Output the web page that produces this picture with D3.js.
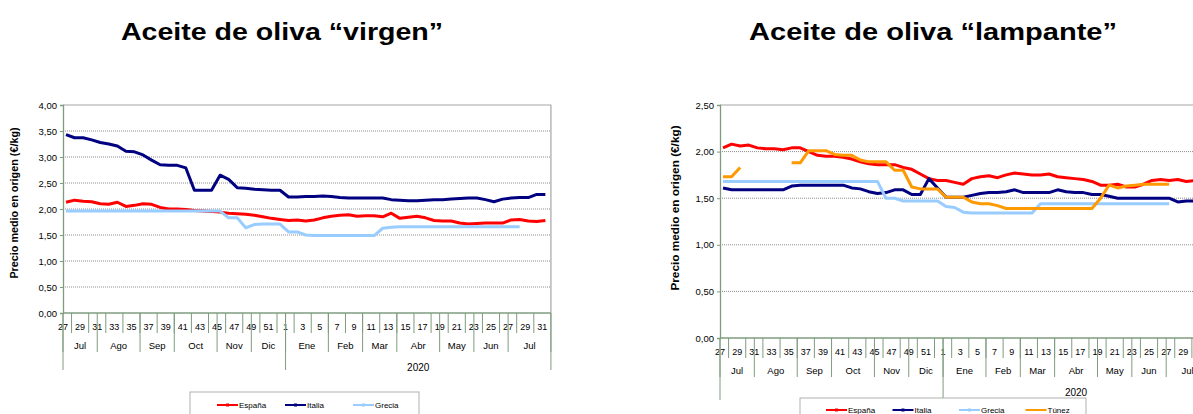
<!DOCTYPE html>
<html>
<head>
<meta charset="utf-8">
<script src="https://cdn.jsdelivr.net/npm/d3@7"></script>
<style>
  body { margin: 0; background: #fff; }
  svg { display: block; font-family: "Liberation Sans", Arial, sans-serif; }
</style>
</head>
<body>
<svg id="chart" width="1193" height="414"></svg>
<script>
// Weeks from 27/2019 to 31/2020
const weekLabels = [27, 28, 29, 30, 31, 32, 33, 34, 35, 36, 37, 38, 39, 40, 41, 42, 43, 44, 45, 46, 47, 48, 49, 50, 51, 52,
    1, 2, 3, 4, 5, 6, 7, 8, 9, 10, 11, 12, 13, 14, 15, 16, 17, 18, 19, 20, 21, 22, 23, 24, 25, 26, 27, 28, 29, 30, 31];
const monthLabels = ['Jul', 'Ago', 'Sep', 'Oct', 'Nov', 'Dic', 'Ene', 'Feb', 'Mar', 'Abr', 'May', 'Jun', 'Jul'];
const monthWeeks = [4, 5, 4, 5, 4, 4, 5, 4, 4, 5, 4, 4, 5];
const yearLabels = ['', '2020'];
const yearWeeks = [26, 31];

const seriesNames = ['España', 'Italia', 'Grecia', 'Túnez'];
const seriesColors = ['#ff0000', '#000080', '#99ccff', '#ff9900'];

// Virgen (€/kg)
const virgenEspana = [2.13, 2.17, 2.15, 2.14, 2.10, 2.09, 2.13, 2.05, 2.07, 2.10, 2.09, 2.03, 2.00, 2.00, 1.99, 1.97, 1.96, 1.95, 1.94, 1.92,
    1.91, 1.90, 1.88, 1.85, 1.82, 1.80, 1.78, 1.79, 1.77, 1.79, 1.83, 1.86, 1.88, 1.89, 1.86, 1.87, 1.87, 1.85, 1.92, 1.82,
    1.84, 1.86, 1.83, 1.78, 1.77, 1.77, 1.73, 1.71, 1.72, 1.73, 1.73, 1.73, 1.79, 1.80, 1.77, 1.76, 1.78];
const virgenItalia = [3.43, 3.37, 3.37, 3.33, 3.28, 3.25, 3.21, 3.11, 3.10, 3.04, 2.94, 2.85, 2.84, 2.84, 2.79, 2.36, 2.36, 2.36, 2.65, 2.57,
    2.41, 2.40, 2.38, 2.37, 2.36, 2.36, 2.23, 2.23, 2.24, 2.24, 2.25, 2.24, 2.22, 2.21, 2.21, 2.21, 2.21, 2.21, 2.18, 2.17,
    2.16, 2.16, 2.17, 2.18, 2.18, 2.19, 2.20, 2.21, 2.21, 2.18, 2.14, 2.19, 2.21, 2.22, 2.22, 2.28, 2.28];
const virgenGrecia = [1.96, 1.96, 1.96, 1.96, 1.96, 1.96, 1.96, 1.96, 1.96, 1.96, 1.96, 1.96, 1.96, 1.96, 1.96, 1.96, 1.96, 1.96, 1.96, 1.83,
    1.83, 1.64, 1.70, 1.71, 1.71, 1.71, 1.56, 1.56, 1.50, 1.49, 1.49, 1.49, 1.49, 1.49, 1.49, 1.49, 1.49, 1.63, 1.65, 1.66,
    1.66, 1.66, 1.66, 1.66, 1.66, 1.66, 1.66, 1.66, 1.66, 1.66, 1.66, 1.66, 1.66, 1.66, null, null, null];

// Lampante (€/kg)
const lampanteEspana = [2.04, 2.08, 2.06, 2.07, 2.04, 2.03, 2.03, 2.02, 2.04, 2.04, 2.00, 1.96, 1.95, 1.95, 1.94, 1.92, 1.89, 1.87, 1.86, 1.86,
    1.86, 1.83, 1.81, 1.76, 1.71, 1.69, 1.69, 1.67, 1.65, 1.71, 1.73, 1.74, 1.72, 1.75, 1.77, 1.76, 1.75, 1.75, 1.76, 1.73,
    1.72, 1.71, 1.70, 1.68, 1.64, 1.64, 1.65, 1.62, 1.62, 1.65, 1.69, 1.70, 1.69, 1.70, 1.68, 1.69, 1.70];
const lampanteItalia = [1.61, 1.59, 1.59, 1.59, 1.59, 1.59, 1.59, 1.59, 1.63, 1.64, 1.64, 1.64, 1.64, 1.64, 1.64, 1.61, 1.60, 1.57, 1.55, 1.56,
    1.59, 1.59, 1.54, 1.54, 1.71, 1.61, 1.51, 1.51, 1.51, 1.53, 1.55, 1.56, 1.56, 1.57, 1.59, 1.56, 1.56, 1.56, 1.56, 1.59,
    1.57, 1.56, 1.56, 1.54, 1.54, 1.52, 1.50, 1.50, 1.50, 1.50, 1.50, 1.50, 1.50, 1.46, 1.47, 1.47, 1.47];
const lampanteGrecia = [1.68, 1.68, 1.68, 1.68, 1.68, 1.68, 1.68, 1.68, 1.68, 1.68, 1.68, 1.68, 1.68, 1.68, 1.68, 1.68, 1.68, 1.68, 1.68, 1.50,
    1.50, 1.47, 1.47, 1.47, 1.47, 1.47, 1.41, 1.40, 1.35, 1.34, 1.34, 1.34, 1.34, 1.34, 1.34, 1.34, 1.34, 1.44, 1.44, 1.44,
    1.44, 1.44, 1.44, 1.44, 1.44, 1.44, 1.44, 1.44, 1.44, 1.44, 1.44, 1.44, 1.44, null, null, null, null];
const lampanteTunez = [1.73, 1.73, 1.83, null, null, null, null, null, 1.88, 1.88, 2.01, 2.01, 2.01, 1.97, 1.96, 1.96, 1.91, 1.89, 1.89, 1.89,
    1.80, 1.80, 1.62, 1.60, 1.60, 1.60, 1.51, 1.51, 1.51, 1.46, 1.44, 1.44, 1.42, 1.39, 1.39, 1.39, 1.39, 1.39, 1.39, 1.39,
    1.39, 1.39, 1.39, 1.39, 1.50, 1.64, 1.61, 1.63, 1.64, 1.65, 1.65, 1.65, 1.65, null, null, null, null];

const svg = d3.select('#chart');
const axisColor = '#7f9c7f';

function fmt(v) {
    return d3.format('.2f')(v).replace('.', ',');
}

function drawPanel(p) {
    const n = weekLabels.length;
    const x = d3.scaleLinear().domain([0, n]).range([p.left, p.left + p.step * n]);
    const y = d3.scaleLinear().domain([0, p.yMax]).range([p.bottom, p.top]);
    const g = svg.append('g');

    // Title (stretched a bit wider, like the original)
    g.append('text')
        .attr('x', p.titleX - p.titleW / 2)
        .attr('y', 40)
        .attr('font-size', '24px')
        .attr('font-weight', 'bold')
        .attr('textLength', p.titleW)
        .attr('lengthAdjust', 'spacingAndGlyphs')
        .text(p.title);

    const yTicks = d3.range(0, p.yMax + 0.001, 0.5);

    // Dotted gridlines
    g.selectAll('line.grid')
        .data(yTicks.filter(v => v > 0 && v < p.yMax))
        .join('line')
        .attr('x1', x(0)).attr('x2', x(n))
        .attr('y1', d => y(d)).attr('y2', d => y(d))
        .attr('stroke', '#8c8c8c')
        .attr('stroke-width', 1)
        .attr('stroke-dasharray', '1,1');

    // Plot frame top and right
    g.append('path')
        .attr('d', `M${x(0)},${y(p.yMax)}H${x(n)}V${y(0)}`)
        .attr('fill', 'none')
        .attr('stroke', '#a6a6a6')
        .attr('stroke-width', 1.2);

    // Y axis
    const yAxis = g.append('g')
        .attr('transform', `translate(${x(0)},0)`)
        .call(d3.axisLeft(y).tickValues(yTicks).tickFormat(fmt).tickSize(3).tickPadding(3));
    yAxis.select('.domain').attr('stroke', axisColor).attr('stroke-width', 1.3);
    yAxis.selectAll('.tick line').attr('stroke', axisColor);
    yAxis.selectAll('.tick text').attr('font-size', '9.5px').attr('fill', '#000')
        .attr('font-family', '"Liberation Sans", Arial, sans-serif');

    g.append('text')
        .attr('transform', `translate(${p.yTitleX},${p.yTitleY}) rotate(-90)`)
        .attr('text-anchor', 'middle')
        .attr('font-size', p.yTitleSize)
        .attr('font-weight', 'bold')
        .text('Precio medio en origen (€/kg)');

    // X axis base line
    g.append('line')
        .attr('x1', x(0)).attr('x2', x(n))
        .attr('y1', y(0)).attr('y2', y(0))
        .attr('stroke', axisColor).attr('stroke-width', 1.3);

    // Short week ticks at every second week
    const weekTicks = d3.range(1, n, 2);
    g.selectAll('line.wtick')
        .data(weekTicks)
        .join('line')
        .attr('x1', d => x(d)).attr('x2', d => x(d))
        .attr('y1', y(0)).attr('y2', y(0) + 20)
        .attr('stroke', axisColor);

    // Week labels (odd weeks)
    g.selectAll('text.wlab')
        .data(weekLabels.map((w, i) => ({ w, i })).filter(d => d.w % 2 === 1))
        .join('text')
        .attr('x', d => x(d.i))
        .attr('y', y(0) + 17)
        .attr('text-anchor', 'middle')
        .attr('font-size', '9px')
        .attr('font-family', '"Liberation Sans Narrow", "Arial Narrow", sans-serif')
        .text(d => d.w);

    // Month groups
    let acc = 0;
    const months = monthLabels.map((m, i) => {
        const s = acc;
        acc += monthWeeks[i];
        return { m, s, e: acc };
    });
    g.selectAll('line.mtick')
        .data(months.map(d => d.s).concat([n]))
        .join('line')
        .attr('x1', d => x(d)).attr('x2', d => x(d))
        .attr('y1', y(0)).attr('y2', y(0) + 39)
        .attr('stroke', axisColor);
    g.selectAll('text.mlab')
        .data(months)
        .join('text')
        .attr('x', d => x((d.s + d.e) / 2))
        .attr('y', y(0) + 36)
        .attr('text-anchor', 'middle')
        .attr('font-size', '9.5px')
        .attr('font-family', '"Liberation Sans Narrow", "Arial Narrow", sans-serif')
        .text(d => d.m);

    // Year groups
    acc = 0;
    const years = yearLabels.map((yl, i) => {
        const s = acc;
        acc += yearWeeks[i];
        return { yl, s, e: acc };
    });
    g.selectAll('line.ytick')
        .data(years.map(d => d.s).concat([n]))
        .join('line')
        .attr('x1', d => x(d)).attr('x2', d => x(d))
        .attr('y1', y(0)).attr('y2', y(0) + p.yearTick)
        .attr('stroke', axisColor);
    g.selectAll('text.ylab')
        .data(years)
        .join('text')
        .attr('x', d => x((d.s + d.e) / 2))
        .attr('y', y(0) + 58)
        .attr('text-anchor', 'middle')
        .attr('font-size', '10px')
        .text(d => d.yl);

    // Series lines
    const line = d3.line()
        .defined(v => v != null)
        .x((v, i) => x(i + 0.35))
        .y(v => y(v));
    p.series.forEach((s, k) => {
        g.append('path')
            .datum(s)
            .attr('d', line)
            .attr('fill', 'none')
            .attr('stroke', seriesColors[k])
            .attr('stroke-width', 3)
            .attr('stroke-linejoin', 'round');
    });

    // Legend
    const lg = p.legend;
    g.append('rect')
        .attr('x', lg.x).attr('y', lg.y)
        .attr('width', lg.w).attr('height', 40)
        .attr('fill', '#fff')
        .attr('stroke', '#b0b0b0');
    p.series.forEach((s, k) => {
        const lx = lg.x + lg.offset + k * lg.spacing;
        const ly = lg.y + lg.rowY;
        g.append('line')
            .attr('x1', lx).attr('x2', lx + 21)
            .attr('y1', ly).attr('y2', ly)
            .attr('stroke', seriesColors[k]).attr('stroke-width', 2);
        if (k < 3) {
            g.append('rect')
                .attr('x', lx + 9).attr('y', ly - 1.5)
                .attr('width', 3).attr('height', 3)
                .attr('fill', seriesColors[k]);
        }
        g.append('text')
            .attr('x', lx + 22)
            .attr('y', ly + 2.5)
            .attr('font-size', '8px')
            .attr('font-family', '"Liberation Sans Narrow", "Arial Narrow", sans-serif')
            .text(seriesNames[k]);
    });
}

drawPanel({
    title: 'Aceite de oliva “virgen”', titleX: 282, titleW: 322,
    left: 63, step: 8.56, top: 105, bottom: 313, yMax: 4,
    yTitleX: 18, yTitleY: 203, yTitleSize: '10.8px', yearTick: 57,
    series: [virgenEspana, virgenItalia, virgenGrecia],
    legend: { x: 190, y: 392, w: 229, offset: 27, spacing: 68, rowY: 13 }
});

drawPanel({
    title: 'Aceite de oliva “lampante”', titleX: 933, titleW: 368,
    left: 720, step: 8.58, top: 105, bottom: 338, yMax: 2.5,
    yTitleX: 679, yTitleY: 208, yTitleSize: '11.8px', yearTick: 62,
    series: [lampanteEspana, lampanteItalia, lampanteGrecia, lampanteTunez],
    legend: { x: 800, y: 398, w: 286, offset: 26, spacing: 66.5, rowY: 12 }
});
</script>
</body>
</html>
